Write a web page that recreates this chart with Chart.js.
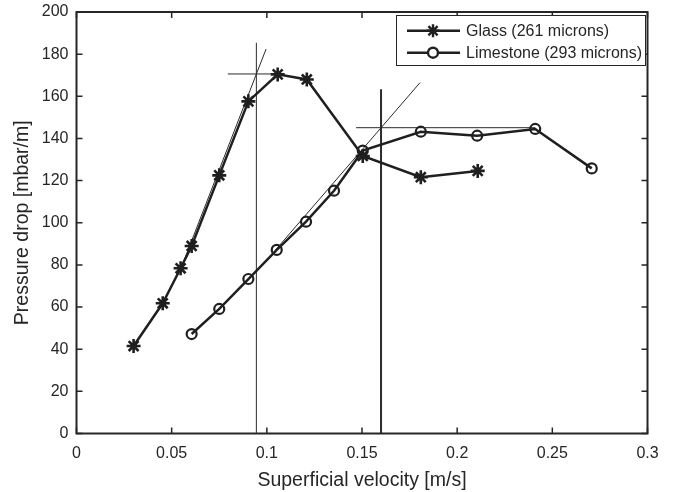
<!DOCTYPE html>
<html>
<head>
<meta charset="utf-8">
<script src="https://cdn.jsdelivr.net/npm/chart.js@4/dist/chart.umd.min.js"></script>
<style>
  html, body { margin: 0; padding: 0; background: #fff; }
  #wrap { width: 673px; height: 492px; }
</style>
</head>
<body>
<div id="wrap"><canvas id="graficoPresion" width="673" height="492"></canvas></div>
<script>
/* datos */
const glassX = [0.03, 0.0453, 0.0547, 0.0605, 0.075, 0.0903, 0.1057, 0.121, 0.1504, 0.1809, 0.2108];
const glassY = [41.5, 61.8, 78.4, 89, 122.5, 157.6, 170.4, 168, 131.7, 121.6, 124.6];
const limeX = [0.0605, 0.075, 0.0903, 0.1052, 0.1206, 0.1353, 0.1504, 0.1809, 0.2105, 0.241, 0.2707];
const limeY = [47.2, 59.1, 73.3, 87.1, 100.5, 115.2, 134.2, 143.2, 141.3, 144.5, 125.8];

/* lineas de construccion (x, y) */
const glassFitX = [0.0545, 0.0996];
const glassFitY = [77.5, 182.4];
const glassPeakX = [0.0795, 0.105];
const glassPeakY = [170.6, 170.6];
const glassVertX = [0.0945, 0.0945];
const glassVertY = [0, 185.4];
const limeFitX = [0.1045, 0.1805];
const limeFitY = [87, 166.5];
const limePeakX = [0.1469, 0.241];
const limePeakY = [145.1, 145.1];
const limeVertX = [0.16, 0.16];
const limeVertY = [0, 163.3];

const seriesLabels = ['Glass (261 microns)', 'Limestone (293 microns)'];
const xTicks = [0, 0.05, 0.1, 0.15, 0.2, 0.25, 0.3];
const xTickLabels = ['0', '0.05', '0.1', '0.15', '0.2', '0.25', '0.3'];
const yTicks = [0, 20, 40, 60, 80, 100, 120, 140, 160, 180, 200];
const yTickLabels = ['0', '20', '40', '60', '80', '100', '120', '140', '160', '180', '200'];

const INK = '#262626';
const FONT = 'Liberation Sans, Arial, sans-serif';

function pares(xs, ys) {
  return xs.map((x, i) => ({ x: x, y: ys[i] }));
}

function guia(xs, ys, ancho) {
  return {
    label: '',
    data: pares(xs, ys),
    showLine: true,
    borderColor: '#2b2b2b',
    borderWidth: ancho,
    pointRadius: 0,
    fill: false
  };
}

// marco con marcas hacia dentro (estilo matlab)
const marcoPlugin = {
  id: 'marco',
  afterDraw(chart) {
    const ctx = chart.ctx;
    const a = chart.chartArea;
    const sx = chart.scales.x, sy = chart.scales.y;
    const tl = 6;
    ctx.save();
    ctx.strokeStyle = INK;
    ctx.lineWidth = 1.5;
    ctx.beginPath();
    xTicks.forEach(v => {
      const px = sx.getPixelForValue(v);
      ctx.moveTo(px, a.bottom); ctx.lineTo(px, a.bottom - tl);
      ctx.moveTo(px, a.top); ctx.lineTo(px, a.top + tl);
    });
    yTicks.forEach(v => {
      const py = sy.getPixelForValue(v);
      ctx.moveTo(a.left, py); ctx.lineTo(a.left + tl, py);
      ctx.moveTo(a.right, py); ctx.lineTo(a.right - tl, py);
    });
    ctx.stroke();
    ctx.lineWidth = 2;
    ctx.strokeRect(a.left, a.top, a.right - a.left, a.bottom - a.top);

    // leyenda
    const bx = 396, by = 15, bw = 249, bh = 50;
    ctx.fillStyle = '#fff';
    ctx.fillRect(bx, by, bw, bh);
    ctx.lineWidth = 1;
    ctx.strokeStyle = INK;
    ctx.strokeRect(bx + 0.5, by + 0.5, bw, bh);
    const filas = [30.7, 52.7];
    ctx.font = '16px ' + FONT;
    ctx.textBaseline = 'middle';
    ctx.textAlign = 'left';
    seriesLabels.forEach((txt, i) => {
      const y = filas[i];
      ctx.strokeStyle = '#1f1f1f';
      ctx.lineWidth = 2.5;
      ctx.beginPath();
      ctx.moveTo(407, y); ctx.lineTo(460, y);
      ctx.stroke();
      ctx.lineWidth = 2.4;
      ctx.beginPath();
      if (i === 0) {
        const r = 6.5;
        for (let k = 0; k < 4; k++) {
          const ang = k * Math.PI / 4;
          ctx.moveTo(433 - r * Math.cos(ang), y - r * Math.sin(ang));
          ctx.lineTo(433 + r * Math.cos(ang), y + r * Math.sin(ang));
        }
        ctx.stroke();
      } else {
        ctx.fillStyle = '#fff';
        ctx.arc(433, y, 5, 0, Math.PI * 2);
        ctx.fill();
        ctx.stroke();
      }
      ctx.fillStyle = INK;
      ctx.fillText(txt, 466, y + 1);
    });
    ctx.restore();
  }
};

const ctx = document.getElementById('graficoPresion');

new Chart(ctx, {
  type: 'scatter',
  data: {
    datasets: [
      {
        label: seriesLabels[0],
        data: pares(glassX, glassY),
        showLine: true,
        borderColor: '#1f1f1f',
        borderWidth: 2.5,
        pointStyle: 'star',
        pointRadius: 7,
        pointBorderWidth: 2.6,
        pointBorderColor: '#1f1f1f',
        pointBackgroundColor: '#1f1f1f'
      },
      {
        label: seriesLabels[1],
        data: pares(limeX, limeY),
        showLine: true,
        borderColor: '#1f1f1f',
        borderWidth: 2.5,
        pointStyle: 'circle',
        pointRadius: 5,
        pointBorderWidth: 2.2,
        pointBorderColor: '#1f1f1f',
        pointBackgroundColor: 'rgba(255,255,255,0)'
      },
      guia(glassFitX, glassFitY, 1),
      guia(glassPeakX, glassPeakY, 1),
      guia(glassVertX, glassVertY, 1),
      guia(limeFitX, limeFitY, 1),
      guia(limePeakX, limePeakY, 1),
      guia(limeVertX, limeVertY, 2)
    ]
  },
  options: {
    responsive: false,
    animation: false,
    clip: false,
    layout: { padding: { left: 0, right: 25.5, top: 12, bottom: 0 } },
    plugins: {
      legend: { display: false },
      tooltip: { enabled: false }
    },
    scales: {
      x: {
        type: 'linear',
        min: 0,
        max: 0.3,
        grid: { display: false },
        border: { display: false },
        afterBuildTicks: s => { s.ticks = xTicks.map(v => ({ value: v })); },
        afterFit: s => { s.height = 58.5; },
        ticks: {
          color: INK,
          font: { family: FONT, size: 16 },
          padding: 2,
          maxRotation: 0,
          autoSkip: false,
          callback: (v, i) => xTickLabels[i]
        },
        title: {
          display: true,
          text: 'Superficial velocity [m/s]',
          color: INK,
          font: { family: FONT, size: 19.5 },
          padding: { top: 0, bottom: 0 }
        }
      },
      y: {
        type: 'linear',
        min: 0,
        max: 200,
        grid: { display: false },
        border: { display: false },
        afterBuildTicks: s => { s.ticks = yTicks.map(v => ({ value: v })); },
        afterFit: s => { s.width = 76.5; },
        ticks: {
          color: INK,
          font: { family: FONT, size: 16 },
          padding: 0,
          autoSkip: false,
          callback: (v, i) => yTickLabels[i]
        },
        title: {
          display: true,
          text: 'Pressure drop [mbar/m]',
          color: INK,
          font: { family: FONT, size: 19.5 },
          padding: { top: 11, bottom: 0 }
        }
      }
    }
  },
  plugins: [marcoPlugin]
});
</script>
</body>
</html>
